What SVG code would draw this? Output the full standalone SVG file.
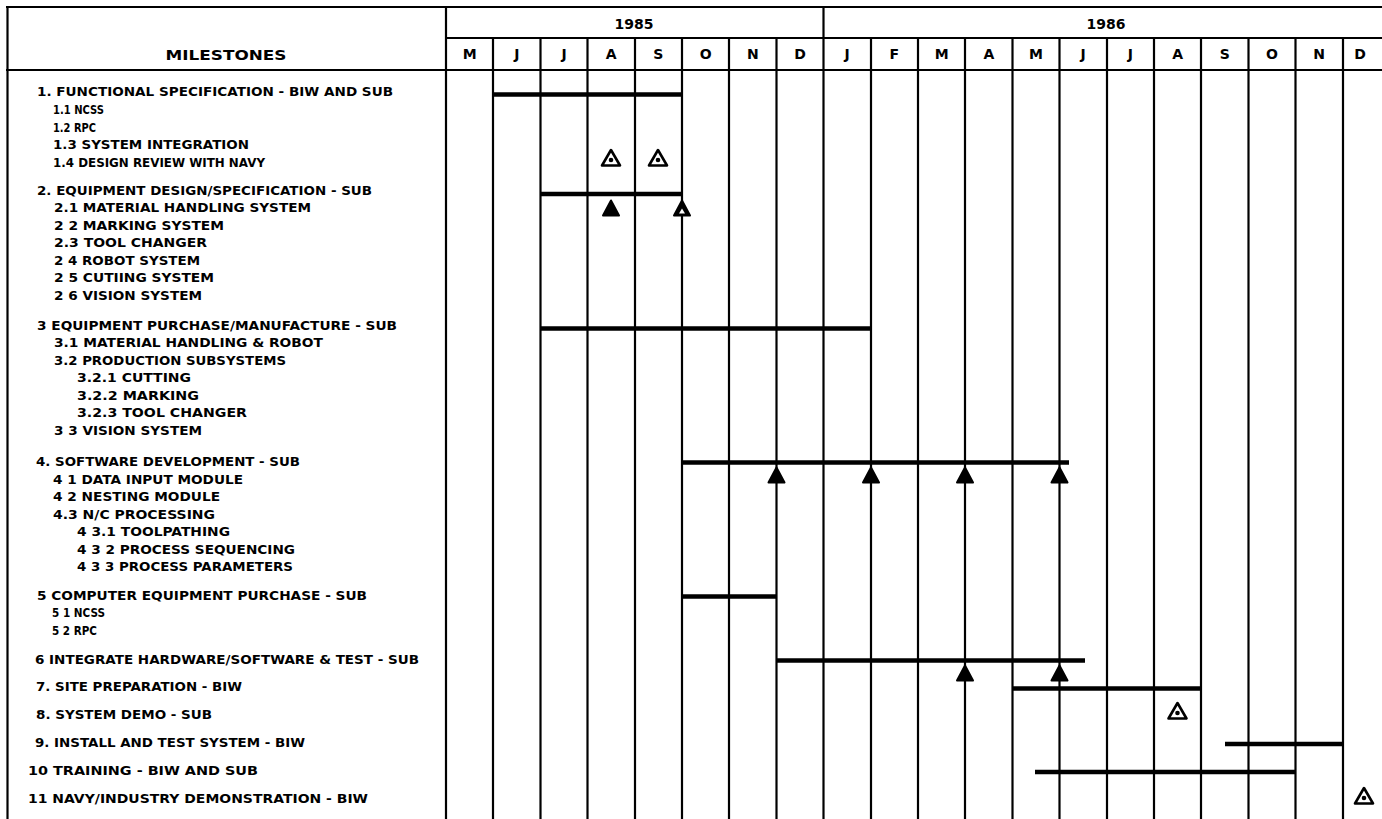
<svg xmlns="http://www.w3.org/2000/svg" width="1382" height="819" viewBox="0 0 1382 819">
<style>
.bg{fill:#fff}
.g{stroke:#000;stroke-width:2.2;fill:none}
.bar{stroke:#000;stroke-width:4.5;stroke-linecap:butt}
.t{font-family:"DejaVu Sans","Liberation Sans",sans-serif;font-weight:bold;font-size:12.5px;fill:#000}
.h{font-family:"DejaVu Sans","Liberation Sans",sans-serif;font-weight:bold;font-size:14px;fill:#000;text-anchor:middle}
</style>
<defs>
<path id="triF" d="M0,-8 L8,7 L-8,7 Z" fill="#000" stroke="#000" stroke-width="2" stroke-linejoin="round"/>
<g id="triH"><path d="M0,-8 L8,7 L-8,7 Z" fill="#000" stroke="#000" stroke-width="2" stroke-linejoin="round"/><path d="M0,0 L3,5 L-3,5 Z" fill="#fff"/></g>
<g id="triO"><path d="M0,-8 L9,7.5 L-9,7.5 Z" fill="#fff" stroke="#000" stroke-width="2.6" stroke-linejoin="round"/><circle cx="0" cy="2" r="2.3" fill="#000"/></g>
</defs>
<rect class="bg" x="0" y="0" width="1382" height="819"/>

<g id="grid" class="g">
<line x1="6" y1="7" x2="1382" y2="7"/>
<line x1="446" y1="38" x2="1382" y2="38"/>
<line x1="6" y1="70" x2="1382" y2="70"/>
<line x1="7.5" y1="6" x2="7.5" y2="819"/>
<line x1="446" y1="6" x2="446" y2="819"/>
<line x1="823.5" y1="6" x2="823.5" y2="819"/>
<line x1="493" y1="38" x2="493" y2="819"/>
<line x1="540.5" y1="38" x2="540.5" y2="819"/>
<line x1="587.5" y1="38" x2="587.5" y2="819"/>
<line x1="635" y1="38" x2="635" y2="819"/>
<line x1="682" y1="38" x2="682" y2="819"/>
<line x1="729" y1="38" x2="729" y2="819"/>
<line x1="776.5" y1="38" x2="776.5" y2="819"/>
<line x1="871" y1="38" x2="871" y2="819"/>
<line x1="918" y1="38" x2="918" y2="819"/>
<line x1="965" y1="38" x2="965" y2="819"/>
<line x1="1012.5" y1="38" x2="1012.5" y2="819"/>
<line x1="1059.5" y1="38" x2="1059.5" y2="819"/>
<line x1="1107" y1="38" x2="1107" y2="819"/>
<line x1="1154" y1="38" x2="1154" y2="819"/>
<line x1="1201" y1="38" x2="1201" y2="819"/>
<line x1="1248.5" y1="38" x2="1248.5" y2="819"/>
<line x1="1295.5" y1="38" x2="1295.5" y2="819"/>
<line x1="1343" y1="38" x2="1343" y2="819"/>
</g>

<g id="header">
<text class="h" x="226" y="60" textLength="121" lengthAdjust="spacingAndGlyphs">MILESTONES</text>
<text class="h" x="634" y="29">1985</text>
<text class="h" x="1106" y="29">1986</text>
<text class="h" x="469.6" y="59">M</text>
<text class="h" x="516.8" y="59">J</text>
<text class="h" x="564" y="59">J</text>
<text class="h" x="611.2" y="59">A</text>
<text class="h" x="658.4" y="59">S</text>
<text class="h" x="705.6" y="59">O</text>
<text class="h" x="752.8" y="59">N</text>
<text class="h" x="800" y="59">D</text>
<text class="h" x="847.2" y="59">J</text>
<text class="h" x="894.4" y="59">F</text>
<text class="h" x="941.6" y="59">M</text>
<text class="h" x="988.8" y="59">A</text>
<text class="h" x="1036" y="59">M</text>
<text class="h" x="1083.2" y="59">J</text>
<text class="h" x="1130.4" y="59">J</text>
<text class="h" x="1177.6" y="59">A</text>
<text class="h" x="1224.8" y="59">S</text>
<text class="h" x="1272" y="59">O</text>
<text class="h" x="1319.2" y="59">N</text>
<text class="h" x="1360" y="59">D</text>
</g>

<g id="m1">
<text class="t" x="37" y="95.5" textLength="356" lengthAdjust="spacingAndGlyphs">1. FUNCTIONAL SPECIFICATION - BIW AND SUB</text>
<text class="t" x="53" y="113.5" textLength="51" lengthAdjust="spacingAndGlyphs">1.1 NCSS</text>
<text class="t" x="53" y="131.5" textLength="43" lengthAdjust="spacingAndGlyphs">1.2 RPC</text>
<text class="t" x="53" y="149" textLength="196" lengthAdjust="spacingAndGlyphs">1.3 SYSTEM INTEGRATION</text>
<text class="t" x="53" y="166.5" textLength="212" lengthAdjust="spacingAndGlyphs">1.4 DESIGN REVIEW WITH NAVY</text>
<line class="bar" x1="493" y1="94.5" x2="682" y2="94.5"/>
<use href="#triO" x="611" y="158"/>
<use href="#triO" x="658" y="158"/>
</g>

<g id="m2">
<text class="t" x="37" y="194.5" textLength="335" lengthAdjust="spacingAndGlyphs">2. EQUIPMENT DESIGN/SPECIFICATION - SUB</text>
<text class="t" x="54" y="212" textLength="257" lengthAdjust="spacingAndGlyphs">2.1 MATERIAL HANDLING SYSTEM</text>
<text class="t" x="54" y="229.5" textLength="170" lengthAdjust="spacingAndGlyphs">2 2 MARKING SYSTEM</text>
<text class="t" x="54" y="247" textLength="153" lengthAdjust="spacingAndGlyphs">2.3 TOOL CHANGER</text>
<text class="t" x="54" y="264.5" textLength="146" lengthAdjust="spacingAndGlyphs">2 4 ROBOT SYSTEM</text>
<text class="t" x="54" y="282" textLength="160" lengthAdjust="spacingAndGlyphs">2 5 CUTIING SYSTEM</text>
<text class="t" x="54" y="299.5" textLength="148" lengthAdjust="spacingAndGlyphs">2 6 VISION SYSTEM</text>
<line class="bar" x1="540.5" y1="194" x2="682" y2="194"/>
<use href="#triF" x="611" y="208.5"/>
<use href="#triH" x="682" y="208.5"/>
</g>

<g id="m3">
<text class="t" x="37" y="329.5" textLength="360" lengthAdjust="spacingAndGlyphs">3 EQUIPMENT PURCHASE/MANUFACTURE - SUB</text>
<text class="t" x="54" y="347" textLength="269" lengthAdjust="spacingAndGlyphs">3.1 MATERIAL HANDLING &amp; ROBOT</text>
<text class="t" x="54" y="364.5" textLength="232" lengthAdjust="spacingAndGlyphs">3.2 PRODUCTION SUBSYSTEMS</text>
<text class="t" x="77" y="382" textLength="114" lengthAdjust="spacingAndGlyphs">3.2.1 CUTTING</text>
<text class="t" x="77" y="399.5" textLength="122" lengthAdjust="spacingAndGlyphs">3.2.2 MARKING</text>
<text class="t" x="77" y="417" textLength="170" lengthAdjust="spacingAndGlyphs">3.2.3 TOOL CHANGER</text>
<text class="t" x="54" y="434.5" textLength="148" lengthAdjust="spacingAndGlyphs">3 3 VISION SYSTEM</text>
<line class="bar" x1="540.5" y1="328.5" x2="871" y2="328.5"/>
</g>

<g id="m4">
<text class="t" x="36" y="466" textLength="264" lengthAdjust="spacingAndGlyphs">4. SOFTWARE DEVELOPMENT - SUB</text>
<text class="t" x="53" y="483.5" textLength="190" lengthAdjust="spacingAndGlyphs">4 1 DATA INPUT MODULE</text>
<text class="t" x="53" y="501" textLength="167" lengthAdjust="spacingAndGlyphs">4 2 NESTING MODULE</text>
<text class="t" x="53" y="518.5" textLength="162" lengthAdjust="spacingAndGlyphs">4.3 N/C PROCESSING</text>
<text class="t" x="77" y="536" textLength="153" lengthAdjust="spacingAndGlyphs">4 3.1 TOOLPATHING</text>
<text class="t" x="77" y="553.5" textLength="218" lengthAdjust="spacingAndGlyphs">4 3 2 PROCESS SEQUENCING</text>
<text class="t" x="77" y="571" textLength="216" lengthAdjust="spacingAndGlyphs">4 3 3 PROCESS PARAMETERS</text>
<line class="bar" x1="682" y1="462.5" x2="1069" y2="462.5"/>
<use href="#triF" x="776.5" y="475.5"/>
<use href="#triF" x="871" y="475.5"/>
<use href="#triF" x="965" y="475.5"/>
<use href="#triF" x="1059.5" y="475.5"/>
</g>

<g id="m5">
<text class="t" x="37" y="599.5" textLength="330" lengthAdjust="spacingAndGlyphs">5 COMPUTER EQUIPMENT PURCHASE - SUB</text>
<text class="t" x="52" y="617" textLength="53" lengthAdjust="spacingAndGlyphs">5 1 NCSS</text>
<text class="t" x="52" y="634.5" textLength="45" lengthAdjust="spacingAndGlyphs">5 2 RPC</text>
<line class="bar" x1="682" y1="596.5" x2="776.5" y2="596.5"/>
</g>

<g id="m6">
<text class="t" x="35" y="663.5" textLength="384" lengthAdjust="spacingAndGlyphs">6 INTEGRATE HARDWARE/SOFTWARE &amp; TEST - SUB</text>
<line class="bar" x1="776.5" y1="660.5" x2="1085" y2="660.5"/>
<use href="#triF" x="965" y="673.5"/>
<use href="#triF" x="1059.5" y="673.5"/>
</g>

<g id="m7">
<text class="t" x="36" y="691" textLength="206" lengthAdjust="spacingAndGlyphs">7. SITE PREPARATION - BIW</text>
<line class="bar" x1="1012.5" y1="688.5" x2="1201" y2="688.5"/>
</g>

<g id="m8">
<text class="t" x="36" y="718.5" textLength="176" lengthAdjust="spacingAndGlyphs">8. SYSTEM DEMO - SUB</text>
<use href="#triO" x="1177.5" y="711"/>
</g>

<g id="m9">
<text class="t" x="35" y="746.5" textLength="270" lengthAdjust="spacingAndGlyphs">9. INSTALL AND TEST SYSTEM - BIW</text>
<line class="bar" x1="1225" y1="744" x2="1343" y2="744"/>
</g>

<g id="m10">
<text class="t" x="28" y="774.5" textLength="230" lengthAdjust="spacingAndGlyphs">10 TRAINING - BIW AND SUB</text>
<line class="bar" x1="1035" y1="772" x2="1295.5" y2="772"/>
</g>

<g id="m11">
<text class="t" x="28" y="802.5" textLength="340" lengthAdjust="spacingAndGlyphs">11 NAVY/INDUSTRY DEMONSTRATION - BIW</text>
<use href="#triO" x="1364" y="796"/>
</g>
</svg>
